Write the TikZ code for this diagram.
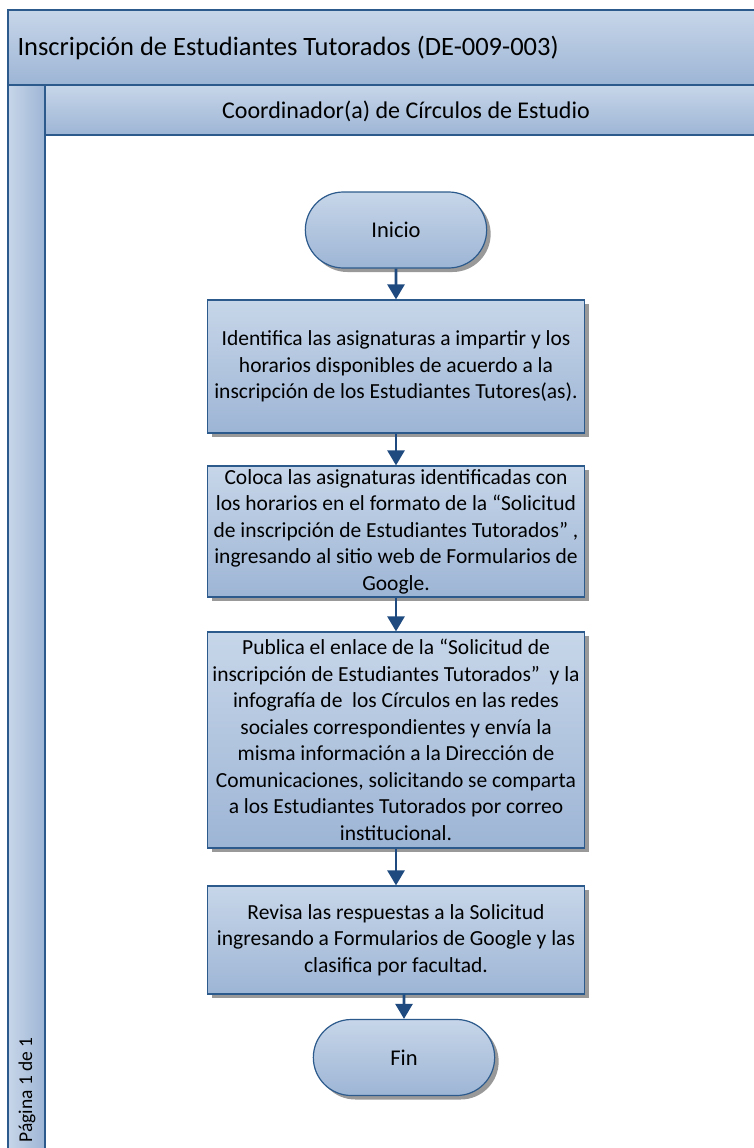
\documentclass[tikz,border=0pt]{standalone}
\usepackage{fontspec}
\setmainfont{Carlito}
\usetikzlibrary{arrows.meta, shapes.misc, shadows}

\definecolor{laneblue}{HTML}{2C5A8C}
\definecolor{arrowblue}{HTML}{1F4A80}
\definecolor{filltop}{HTML}{C7D6E9}
\definecolor{fillbot}{HTML}{9DB5D5}

\begin{document}
\begin{tikzpicture}[x=1pt, y=-1pt,
    stepbox/.style={rectangle, draw=laneblue, line width=1.2pt, top color=filltop, bottom color=fillbot,
        drop shadow={shadow xshift=4pt, shadow yshift=-4pt, fill=black!40, opacity=1},
        align=center, font=\fontsize{21.5}{26.5}\selectfont, minimum width=377pt, inner sep=0pt},
    termbox/.style={rounded rectangle, draw=laneblue, line width=1.2pt, top color=filltop, bottom color=fillbot,
        drop shadow={shadow xshift=4pt, shadow yshift=-4pt, fill=black!40, opacity=1},
        minimum width=188pt, minimum height=76pt, font=\fontsize{22.5}{26}\selectfont},
    flow/.style={-{Triangle[width=17pt, length=15pt]}, draw=arrowblue, line width=2.6pt}]
        \useasboundingbox (0,0) rectangle (754,1148);

        % Pool and lane
        \shade[top color=filltop, bottom color=fillbot] (8,10) rectangle (760,85);
        \shade[left color=filltop, right color=fillbot] (8,85) rectangle (45,1152);
        \shade[top color=filltop, bottom color=fillbot] (45,85) rectangle (760,135);
        \draw[laneblue, line width=1.6pt] (760,10) -- (8,10) -- (8,1152);
        \draw[laneblue, line width=1.6pt] (8,85) -- (760,85);
        \draw[laneblue, line width=1.6pt] (45,1152) -- (45,85);
        \draw[laneblue, line width=1.6pt] (45,135) -- (760,135);
        \node[anchor=west, font=\fontsize{26.5}{30}\selectfont] (pool) at (14,48) {Inscripción de Estudiantes Tutorados (DE-009-003)};
        \node[font=\fontsize{24}{28}\selectfont] (lane) at (406,111) {Coordinador(a) de Círculos de Estudio};
        \node[anchor=west, rotate=90, font=\fontsize{19.5}{23}\selectfont] (pagina) at (27,1146) {Página 1 de 1};

        % Draw nodes
        \node[termbox] (inicio) at (396,230) {Inicio};
        \node[stepbox, minimum height=133pt] (identifica) at (396,366.5) {Identifica las asignaturas a impartir y los\\horarios disponibles de acuerdo a la\\inscripción de los Estudiantes Tutores(as).};
        \node[stepbox, minimum height=131pt] (coloca) at (396,531.5) {Coloca las asignaturas identificadas con\\los horarios en el formato de la “Solicitud\\de inscripción de Estudiantes Tutorados” ,\\ingresando al sitio web de Formularios de\\Google.};
        \node[stepbox, minimum height=216pt] (publica) at (396,740) {Publica el enlace de la “Solicitud de\\inscripción de Estudiantes Tutorados”~~y la\\infografía de~~los Círculos en las redes\\sociales correspondientes y envía la\\misma información a la Dirección de\\Comunicaciones, solicitando se comparta\\a los Estudiantes Tutorados por correo\\institucional.};
        \node[stepbox, minimum height=108pt] (revisa) at (396,940) {Revisa las respuestas a la Solicitud\\ingresando a Formularios de Google y las\\clasifica por facultad.};
        \node[termbox] (fin) at (404,1057.5) {Fin};

        % Draw connections
        \draw[flow] (inicio) -- (identifica);
        \draw[flow] (identifica) -- (coloca);
        \draw[flow] (coloca) -- (publica);
        \draw[flow] (publica) -- (revisa);
        \draw[flow] (revisa.south -| fin) -- (fin);
\end{tikzpicture}
\end{document}
